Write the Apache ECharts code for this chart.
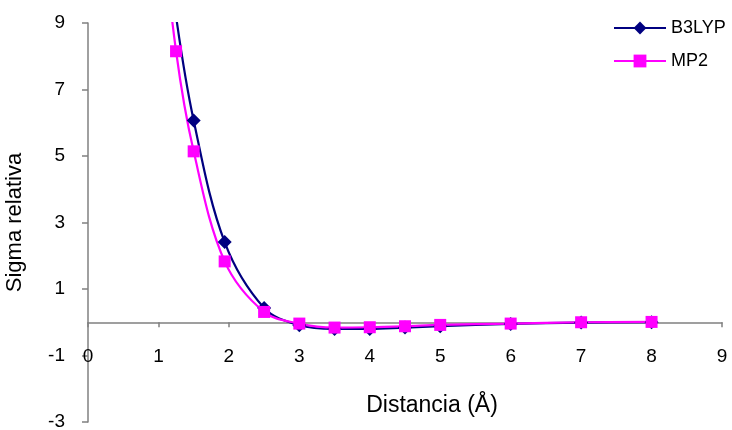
<!DOCTYPE html>
<html>
<head>
<meta charset="utf-8">
<script src="https://cdn.jsdelivr.net/npm/echarts@6/dist/echarts.min.js"></script>
<style>html,body{margin:0;padding:0;background:#fff}#c{width:732px;height:430px}</style>
</head>
<body>
<div id="c"></div>
<script>
const distances = [1.0, 1.25, 1.5, 1.94, 2.5, 3, 3.5, 4, 4.5, 5, 6, 7, 8];
const b3lyp = [13.5, 9.2, 6.07, 2.41, 0.43, -0.09, -0.2, -0.2, -0.16, -0.12, -0.05, -0.01, 0.0];
const mp2 = [13.0, 8.15, 5.14, 1.83, 0.31, -0.04, -0.16, -0.15, -0.12, -0.08, -0.04, 0.0, 0.01];
const seriesNames = ['B3LYP', 'MP2'];
const xAxisTitle = 'Distancia (Å)';
const yAxisTitle = 'Sigma relativa';

const pairs = (ys) => distances.map((x, i) => [x, ys[i]]);
const font = 'Liberation Sans, Arial, sans-serif';
const gridTop = 23, gridBottom = 8, chartH = 430;
const yMin = -3, yMax = 9;
// distance (px) between grid bottom and the y = 0 line, so the x axis sits on zero
const zeroOffset = (0 - yMin) / (yMax - yMin) * (chartH - gridTop - gridBottom);

const chart = echarts.init(document.getElementById('c'));
chart.setOption({
  animation: false,
  backgroundColor: '#ffffff',
  textStyle: { fontFamily: font },
  grid: { left: 88, right: 10, top: gridTop, bottom: gridBottom, containLabel: false, outerBoundsMode: 'none' },
  legend: {
    orient: 'vertical', left: 613, top: 19, padding: 0,
    itemWidth: 52, itemHeight: 16, itemGap: 15,
    textStyle: { fontSize: 18, color: '#000', fontFamily: font },
    data: seriesNames
  },
  xAxis: {
    type: 'value', min: 0, max: 9, interval: 1,
    position: 'bottom', offset: -zeroOffset,
    name: xAxisTitle, nameLocation: 'middle', nameGap: 72,
    nameTextStyle: { fontSize: 23, color: '#000', fontFamily: font, padding: [0, 0, 0, 54] },
    axisLine: { onZero: false, lineStyle: { color: '#808080', width: 1.5 } },
    axisTick: { show: true, length: 5, lineStyle: { color: '#808080', width: 1.5 } },
    axisLabel: { margin: 25, fontSize: 19, color: '#000', fontFamily: font },
    splitLine: { show: false }
  },
  yAxis: {
    type: 'value', min: yMin, max: yMax, interval: 2,
    name: yAxisTitle, nameLocation: 'middle', nameGap: 62, nameRotate: 90,
    nameTextStyle: { fontSize: 22, color: '#000', fontFamily: font },
    axisLine: { show: true, onZero: false, lineStyle: { color: '#808080', width: 1.5 } },
    axisTick: { show: true, length: 6, lineStyle: { color: '#808080', width: 1.5 } },
    axisLabel: { margin: 23, fontSize: 19, color: '#000', fontFamily: font },
    splitLine: { show: false }
  },
  series: [
    {
      name: seriesNames[0], type: 'line', data: pairs(b3lyp), smooth: 0.35, clip: true,
      symbol: 'diamond', symbolSize: 14,
      lineStyle: { color: '#000080', width: 2.2 },
      itemStyle: { color: '#000080' }
    },
    {
      name: seriesNames[1], type: 'line', data: pairs(mp2), smooth: 0.35, clip: true,
      symbol: 'rect', symbolSize: 12,
      lineStyle: { color: '#FF00FF', width: 2.2 },
      itemStyle: { color: '#FF00FF' }
    }
  ]
});
</script>
</body>
</html>
